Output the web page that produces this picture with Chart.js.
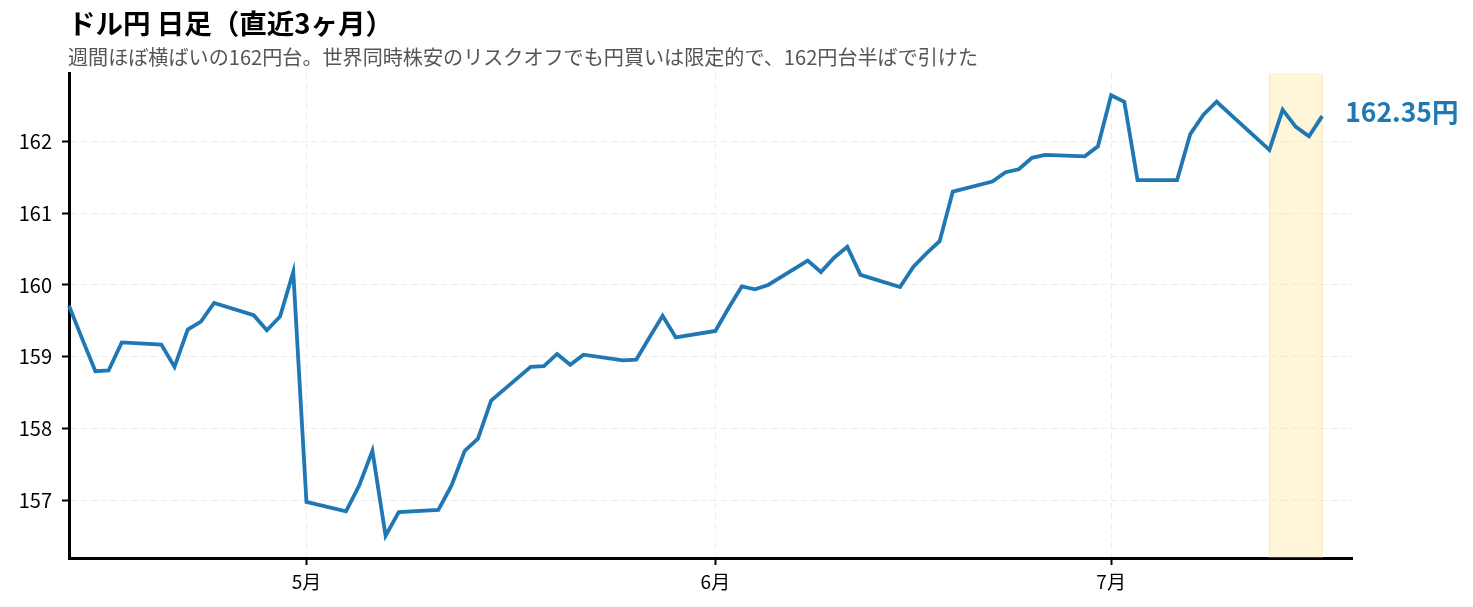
<!DOCTYPE html>
<html>
<head>
<meta charset="utf-8">
<script src="https://cdn.jsdelivr.net/npm/chart.js@4.4.1/dist/chart.umd.min.js"></script>
<style>
  html, body { margin: 0; padding: 0; background: #fff; }
  #wrap { width: 1473px; height: 607px; position: relative; }
</style>
</head>
<body>
<div id="wrap"><canvas id="c" width="1473" height="607"></canvas></div>
<script>
const titleText = 'ドル円 日足（直近3ヶ月）';
const subtitleText = '週間ほぼ横ばいの162円台。世界同時株安のリスクオフでも円買いは限定的で、162円台半ばで引けた';

const dates = [
  '2026-04-13','2026-04-14','2026-04-15','2026-04-16','2026-04-17',
  '2026-04-20','2026-04-21','2026-04-22','2026-04-23','2026-04-24',
  '2026-04-27','2026-04-28','2026-04-29','2026-04-30','2026-05-01',
  '2026-05-04','2026-05-05','2026-05-06','2026-05-07','2026-05-08',
  '2026-05-11','2026-05-12','2026-05-13','2026-05-14','2026-05-15',
  '2026-05-18','2026-05-19','2026-05-20','2026-05-21','2026-05-22',
  '2026-05-25','2026-05-26','2026-05-27','2026-05-28','2026-05-29',
  '2026-06-01','2026-06-02','2026-06-03','2026-06-04','2026-06-05',
  '2026-06-08','2026-06-09','2026-06-10','2026-06-11','2026-06-12',
  '2026-06-15','2026-06-16','2026-06-17','2026-06-18','2026-06-19',
  '2026-06-22','2026-06-23','2026-06-24','2026-06-25','2026-06-26',
  '2026-06-29','2026-06-30','2026-07-01','2026-07-02','2026-07-03',
  '2026-07-06','2026-07-07','2026-07-08','2026-07-09','2026-07-10',
  '2026-07-13','2026-07-14','2026-07-15','2026-07-16','2026-07-17'
];
const closes = [
  159.71,159.25,158.80,158.81,159.20,
  159.17,158.86,159.38,159.49,159.75,
  159.58,159.37,159.56,160.18,156.98,
  156.85,157.21,157.69,156.51,156.84,
  156.87,157.21,157.69,157.86,158.39,
  158.86,158.87,159.04,158.89,159.03,
  158.95,158.96,159.27,159.57,159.27,
  159.36,159.68,159.98,159.94,160.00,
  160.34,160.18,160.38,160.53,160.14,
  159.97,160.25,160.44,160.61,161.30,
  161.44,161.57,161.61,161.77,161.81,
  161.79,161.93,162.64,162.55,161.46,
  161.46,162.10,162.37,162.55,162.38,
  161.88,162.44,162.20,162.07,162.35
];
const monthTickDates = ['2026-05-01','2026-06-01','2026-07-01'];
const monthTickLabels = ['5月','6月','7月'];
const yTickValues = [157,158,159,160,161,162];
const highlightRange = ['2026-07-13','2026-07-17'];
const xRange = ['2026-04-13','2026-07-19'];
const yRange = [156.2, 162.95];

const DAY = 86400000;
const base = Date.parse(dates[0]);
const toX = d => (Date.parse(d) - base) / DAY;

const points = dates.map((d, i) => ({ x: toX(d), y: closes[i] }));
const monthTicks = monthTickDates.map(toX);
const hl = highlightRange.map(toX);

const FONT = '"Noto Sans CJK JP", "Noto Sans", sans-serif';
const BLUE = '#1f77b4';

const decor = {
  id: 'decor',
  beforeDatasetsDraw(chart) {
    const { ctx, chartArea, scales } = chart;
    const x1 = scales.x.getPixelForValue(hl[0]);
    const x2 = scales.x.getPixelForValue(hl[1]);
    ctx.save();
    ctx.fillStyle = 'rgba(255, 214, 102, 0.25)';
    ctx.fillRect(x1, chartArea.top, x2 - x1, chartArea.bottom - chartArea.top);
    ctx.strokeStyle = 'rgba(255, 200, 80, 0.25)';
    ctx.lineWidth = 1.5;
    ctx.beginPath();
    ctx.moveTo(x1, chartArea.top); ctx.lineTo(x1, chartArea.bottom);
    ctx.moveTo(x2, chartArea.top); ctx.lineTo(x2, chartArea.bottom);
    ctx.stroke();
    ctx.restore();
  },
  afterDraw(chart) {
    const { ctx, scales } = chart;
    ctx.save();
    ctx.textBaseline = 'middle';
    ctx.textAlign = 'left';
    ctx.fillStyle = '#000';
    ctx.font = 'bold 27.5px ' + FONT;
    ctx.fillText(titleText, 68, 24);
    ctx.fillStyle = '#555';
    ctx.font = '20.1px ' + FONT;
    ctx.fillText(subtitleText, 68, 57);
    const last = points[points.length - 1];
    const lx = scales.x.getPixelForValue(last.x) + 23;
    const ly = scales.y.getPixelForValue(last.y);
    ctx.fillStyle = BLUE;
    ctx.font = 'bold 26.5px ' + FONT;
    ctx.fillText(last.y.toFixed(2) + '円', lx, ly - 4);
    ctx.restore();
  }
};

new Chart(document.getElementById('c'), {
  type: 'line',
  data: {
    datasets: [{
      data: points,
      borderColor: BLUE,
      borderWidth: 3.8,
      pointRadius: 0,
      tension: 0,
      fill: false,
      clip: false
    }]
  },
  options: {
    responsive: false,
    animation: false,
    events: [],
    layout: { padding: { top: 73, right: 121, left: 0, bottom: 0 } },
    plugins: { legend: { display: false }, tooltip: { enabled: false }, title: { display: false } },
    scales: {
      x: {
        type: 'linear',
        min: toX(xRange[0]),
        max: toX(xRange[1]) + 0.26,
        afterFit(s) { s.height = 49; },
        afterBuildTicks(s) { s.ticks = monthTicks.map(v => ({ value: v })); },
        ticks: {
          autoSkip: false,
          maxRotation: 0,
          padding: 5,
          color: '#000',
          font: { family: FONT, size: 19 },
          callback: (v) => monthTickLabels[monthTicks.indexOf(v)]
        },
        grid: { color: '#ececec', lineWidth: 1, tickColor: '#000', tickWidth: 2, tickLength: 7, drawTicks: true },
        border: { display: true, color: '#000', width: 3, dash: [6, 4] }
      },
      y: {
        min: yRange[0],
        max: yRange[1],
        afterFit(s) { s.width = 69; },
        afterBuildTicks(s) { s.ticks = yTickValues.map(v => ({ value: v })); },
        ticks: {
          padding: 10,
          color: '#000',
          font: { family: FONT, size: 20 },
          callback: (v) => String(v)
        },
        grid: { color: '#ececec', lineWidth: 1, tickColor: '#000', tickWidth: 2, tickLength: 7, drawTicks: true },
        border: { display: true, color: '#000', width: 3, dash: [6, 4] }
      }
    }
  },
  plugins: [decor]
});
</script>
</body>
</html>
